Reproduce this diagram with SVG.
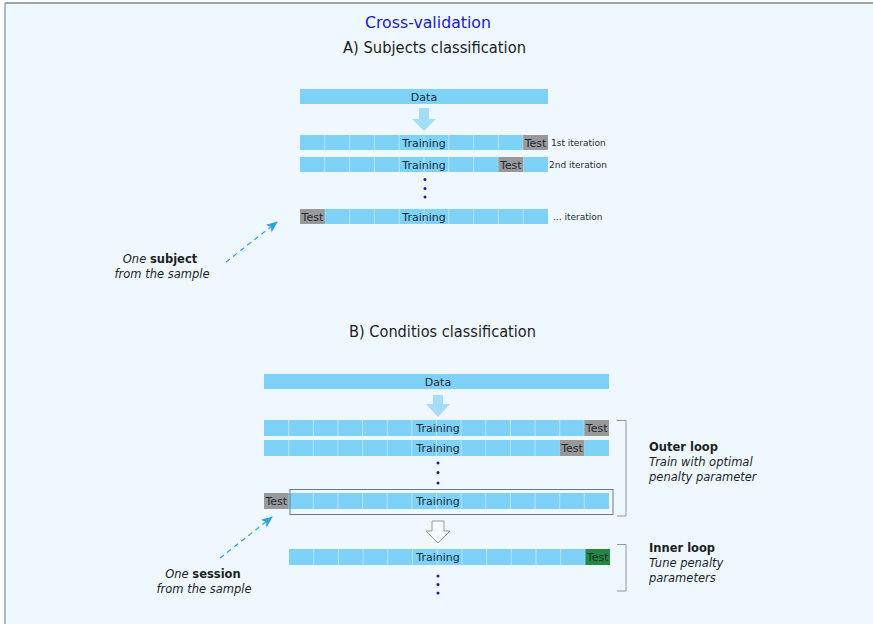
<svg xmlns="http://www.w3.org/2000/svg" width="873" height="624" viewBox="0 0 873 624">
  <style>
    .bar { fill: #7fd2f7; }
    .sep { stroke: #b3e5fb; stroke-width: 1; fill: none; }
    .test { fill: #999999; }
    .green { fill: #23893f; }
    .cell { font-family: "DejaVu Sans", Verdana, sans-serif; font-size: 11px; fill: #1c2a36; text-anchor: middle; }
    .it { font-family: "DejaVu Sans", Verdana, sans-serif; font-size: 9px; fill: #1c2a36; }
    .head { font-family: "DejaVu Sans Condensed", "DejaVu Sans", sans-serif; font-stretch: condensed; text-anchor: middle; }
    .note { font-family: "DejaVu Sans", Verdana, sans-serif; font-size: 11.5px; fill: #1a1f24; }
    .dot { fill: #1a1aa0; }
    .fat { fill: #a5dcf8; }
    .dash { stroke: #2aa3e2; stroke-width: 1.2; stroke-dasharray: 5 4; fill: none; }
    .brk { stroke: #8a9aa2; stroke-width: 1; fill: none; }
  </style>
  <defs>
    <marker id="ah" viewBox="0 0 12 10" refX="11" refY="5" markerWidth="12" markerHeight="10" markerUnits="userSpaceOnUse" orient="auto">
      <path d="M0,0 L12,5 L0,10 L3.5,5 z" fill="#2aa3e2"/>
    </marker>
    <!-- 10-fold row, section A -->
    <g id="rowA">
      <rect width="248" height="15" class="bar"/>
      <path class="sep" d="M24.8 0v15M49.6 0v15M74.4 0v15M99.2 0v15M124 0v15M148.8 0v15M173.6 0v15M198.4 0v15M223.2 0v15"/>
    </g>
    <!-- 14-fold row, section B outer loop -->
    <g id="rowB">
      <rect width="345" height="16" class="bar"/>
      <path class="sep" d="M24.64 0v16M49.28 0v16M73.92 0v16M98.56 0v16M123.2 0v16M147.84 0v16M172.48 0v16M197.12 0v16M221.76 0v16M246.4 0v16M271.04 0v16M295.68 0v16M320.32 0v16"/>
    </g>
    <!-- 13-fold row, inner loop -->
    <g id="rowC">
      <rect width="321" height="16" class="bar"/>
      <path class="sep" d="M24.7 0v16M49.4 0v16M74.1 0v16M98.8 0v16M123.5 0v16M148.2 0v16M172.9 0v16M197.6 0v16M222.3 0v16M247 0v16M271.7 0v16M296.4 0v16"/>
    </g>
  </defs>

  <!-- frame -->
  <rect x="0" y="0" width="873" height="624" fill="#ffffff"/>
  <rect x="5" y="3" width="868" height="621" fill="#f0f8ff"/>
  <line x1="5" y1="3" x2="873" y2="3" stroke="#7d8a88" stroke-width="1.5"/>
  <line x1="5" y1="3" x2="5" y2="624" stroke="#93a8b8" stroke-width="1.5"/>

  <!-- headings -->
  <g id="title">
    <text class="head" x="428" y="28" font-size="16" fill="#1a1acc" textLength="126" lengthAdjust="spacingAndGlyphs">Cross-validation</text>
  </g>
  <g id="heading-a">
    <text class="head" x="434.5" y="53" font-size="15" fill="#1c1c1c" textLength="183" lengthAdjust="spacingAndGlyphs">A) Subjects classification</text>
  </g>
  <g id="heading-b">
    <text class="head" x="442.5" y="337" font-size="15" fill="#1c1c1c" textLength="187" lengthAdjust="spacingAndGlyphs">B) Conditios classification</text>
  </g>

  <!-- section A -->
  <g id="a-data">
    <rect x="300" y="89" width="248" height="15" class="bar"/>
    <text class="cell" x="424" y="100.5">Data</text>
  </g>
  <g id="a-iter1">
    <use href="#rowA" x="300" y="135"/>
    <rect x="523.2" y="135" width="24.8" height="15" class="test"/>
    <text class="cell" x="424" y="146.5">Training</text>
    <text class="cell" x="535.6" y="146.5">Test</text>
    <text class="it" x="551" y="146">1st iteration</text>
  </g>
  <g id="a-iter2">
    <use href="#rowA" x="300" y="157"/>
    <rect x="498.4" y="157" width="24.8" height="15" class="test"/>
    <text class="cell" x="424" y="168.5">Training</text>
    <text class="cell" x="510.8" y="168.5">Test</text>
    <text class="it" x="549" y="168">2nd iteration</text>
  </g>
  <g id="a-dots">
    <circle cx="425" cy="179.5" r="1.5" class="dot"/>
    <circle cx="425" cy="188.5" r="1.5" class="dot"/>
    <circle cx="425" cy="197" r="1.5" class="dot"/>
  </g>
  <g id="a-iter-n">
    <use href="#rowA" x="300" y="209"/>
    <rect x="300" y="209" width="24.8" height="15" class="test"/>
    <text class="cell" x="424" y="220.5">Training</text>
    <text class="cell" x="312.4" y="220.5">Test</text>
    <text class="it" x="553" y="220">... iteration</text>
  </g>
  <g id="a-subject">
    <text class="note" x="160" y="263" text-anchor="middle"><tspan font-style="italic">One </tspan><tspan font-weight="bold">subject</tspan></text>
    <text class="note" x="162" y="278" text-anchor="middle" font-style="italic">from the sample</text>
  </g>

  <!-- section B -->
  <g id="b-data">
    <rect x="264" y="374" width="345" height="15" class="bar"/>
    <text class="cell" x="438" y="385.5">Data</text>
  </g>
  <g id="b-outer1">
    <use href="#rowB" x="264" y="420"/>
    <rect x="584.32" y="420" width="24.68" height="16" class="test"/>
    <text class="cell" x="438" y="432">Training</text>
    <text class="cell" x="596.7" y="432">Test</text>
  </g>
  <g id="b-outer2">
    <use href="#rowB" x="264" y="440"/>
    <rect x="559.68" y="440" width="24.64" height="16" class="test"/>
    <text class="cell" x="438" y="452">Training</text>
    <text class="cell" x="572" y="452">Test</text>
  </g>
  <g id="b-dots">
    <circle cx="438" cy="463" r="1.5" class="dot"/>
    <circle cx="438" cy="472.5" r="1.5" class="dot"/>
    <circle cx="438" cy="483" r="1.5" class="dot"/>
  </g>
  <g id="b-outer-n">
    <use href="#rowB" x="264" y="493"/>
    <rect x="264" y="493" width="24.64" height="16" class="test"/>
    <text class="cell" x="438" y="505">Training</text>
    <text class="cell" x="276.3" y="505">Test</text>
    <rect x="290" y="489.5" width="323" height="25" fill="none" stroke="#6b7b82" stroke-width="1"/>
  </g>
  <g id="b-inner">
    <use href="#rowC" x="289" y="549"/>
    <rect x="585.4" y="549" width="24.6" height="16" class="green"/>
    <text class="cell" x="438" y="561">Training</text>
    <text class="cell" x="597.7" y="561">Test</text>
  </g>
  <g id="b-inner-dots">
    <circle cx="438" cy="576" r="1.5" class="dot"/>
    <circle cx="438" cy="584.5" r="1.5" class="dot"/>
    <circle cx="438" cy="593" r="1.5" class="dot"/>
  </g>
  <g id="b-session">
    <text class="note" x="203" y="578" text-anchor="middle"><tspan font-style="italic">One </tspan><tspan font-weight="bold">session</tspan></text>
    <text class="note" x="204" y="593" text-anchor="middle" font-style="italic">from the sample</text>
  </g>
  <g id="outer-loop">
    <text class="note" x="649" y="451" font-weight="bold">Outer loop</text>
    <text class="note" x="649" y="466" font-style="italic">Train with optimal</text>
    <text class="note" x="649" y="481" font-style="italic">penalty parameter</text>
  </g>
  <g id="inner-loop">
    <text class="note" x="649" y="552" font-weight="bold">Inner loop</text>
    <text class="note" x="649" y="567" font-style="italic">Tune penalty</text>
    <text class="note" x="649" y="582" font-style="italic">parameters</text>
  </g>

  <!-- connectors -->
  <g id="connectors">
    <polygon class="fat" points="419,108 429,108 429,119 436,119 424,131 412,119 419,119"/>
    <polygon class="fat" points="433,395 443,395 443,404 450,404 438,417 426,404 433,404"/>
    <polygon points="432,521 444,521 444,531 450,531 438,543 426,531 432,531" fill="#f6fbff" stroke="#9a9a9a" stroke-width="1"/>
    <line class="dash" x1="226" y1="262" x2="277" y2="222" marker-end="url(#ah)"/>
    <line class="dash" x1="220" y1="558" x2="272" y2="517" marker-end="url(#ah)"/>
    <path class="brk" d="M617 420.5H626V516H617"/>
    <path class="brk" d="M617 544.5H626V591H617"/>
  </g>
</svg>
